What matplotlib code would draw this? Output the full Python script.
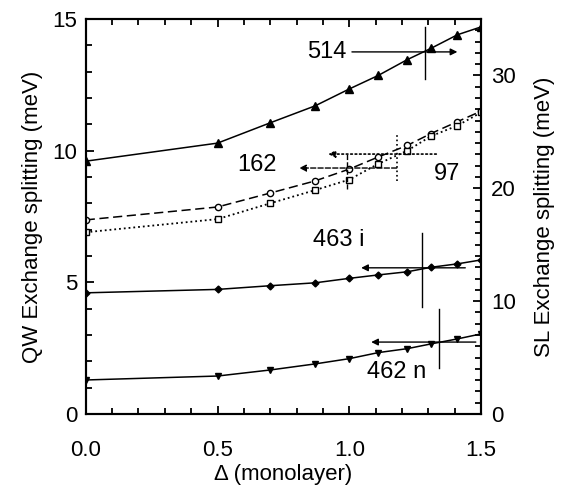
import numpy as np
import matplotlib.pyplot as plt
from matplotlib.ticker import MultipleLocator

# === DATA ===
delta = [0.0, 0.5, 0.7, 0.87, 1.0, 1.11, 1.22, 1.31, 1.41, 1.5]

# sample 514, SL axis (meV)
sl_514 = [22.4, 24.0, 25.8, 27.3, 28.8, 30.0, 31.4, 32.4, 33.6, 34.3]
# QW axis (meV)
qw_162 = [7.37, 7.86, 8.39, 8.85, 9.30, 9.76, 10.2, 10.65, 11.1, 11.5]
qw_97 = [6.90, 7.40, 8.00, 8.50, 8.90, 9.50, 10.0, 10.55, 10.95, 11.45]
qw_463i = [4.60, 4.73, 4.87, 4.98, 5.15, 5.28, 5.40, 5.57, 5.70, 5.85]
qw_462n = [1.29, 1.44, 1.67, 1.90, 2.10, 2.33, 2.48, 2.66, 2.85, 3.04]

qw_max, sl_max = 15, 35

plt.rcParams['font.family'] = ['Liberation Sans', 'DejaVu Sans']

fig = plt.figure(figsize=(5.64, 4.87), dpi=100)
ax = fig.add_axes([0.152, 0.150, 0.701, 0.811])
ax2 = ax.twinx()

ax.plot(delta, qw_462n, '-', color='k', lw=1.1, marker='v', ms=5)
ax.plot(delta, qw_463i, '-', color='k', lw=1.1, marker='D', ms=3.5)
ax.plot(delta, qw_162, '--', color='k', lw=1.1, marker='o', ms=4.5,
        mfc='white', dashes=(6, 3))
ax.plot(delta, qw_97, ':', color='k', lw=1.3, marker='s', ms=4,
        mfc='white')
ax2.plot(delta, sl_514, '-', color='k', lw=1.1, marker='^', ms=5.5)

# === ANNOTATIONS (arrows show which axis) ===
def marker_arrow(ax, x0, x1, y, xv, yv0, yv1, ls, lw=1.0):
    ax.annotate('', xy=(x1, y), xytext=(x0, y),
                arrowprops=dict(arrowstyle='-|>', color='k', lw=lw,
                                ls=ls, mutation_scale=10,
                                shrinkA=0, shrinkB=0))
    ax.plot([xv, xv], [yv0, yv1], color='k', lw=lw, ls=ls)

marker_arrow(ax, 1.01, 1.41, 13.75, 1.288, 12.72, 14.7, '-')
marker_arrow(ax, 1.18, 0.81, 9.34, 0.99, 8.55, 9.91, '--')
marker_arrow(ax, 1.33, 0.92, 9.87, 1.18, 8.85, 10.67, ':', lw=1.2)
marker_arrow(ax, 1.44, 1.045, 5.55, 1.277, 4.06, 6.87, '-')
marker_arrow(ax, 1.48, 1.083, 2.73, 1.34, 1.75, 3.99, '-')

fs = 17
ax.text(0.99, 13.75, '514', fontsize=fs, ha='right', va='center')
ax.text(0.65, 9.45, '162', fontsize=fs, ha='center', va='center')
ax.text(1.37, 9.1, '97', fontsize=fs, ha='center', va='center')
ax.text(0.96, 6.6, '463 i', fontsize=fs, ha='center', va='center')
ax.text(1.18, 1.6, '462 n', fontsize=fs, ha='center', va='center')

# === AXES ===
ax.set_xlim(0, 1.5)
ax.set_ylim(0, qw_max)
ax2.set_ylim(0, sl_max)

ax.xaxis.set_major_locator(MultipleLocator(0.5))
ax.xaxis.set_minor_locator(MultipleLocator(0.1))
ax.yaxis.set_major_locator(MultipleLocator(5))
ax.yaxis.set_minor_locator(MultipleLocator(1))
ax2.yaxis.set_major_locator(MultipleLocator(10))
ax2.yaxis.set_minor_locator(MultipleLocator(1))
ax.xaxis.set_major_formatter(plt.FormatStrFormatter('%.1f'))

ax.tick_params(which='both', direction='in', top=True, right=False,
               labelsize=16, width=1.3)
ax.tick_params(which='major', length=6)
ax.tick_params(which='minor', length=4)
ax.tick_params(axis='x', which='major', pad=19)
ax.tick_params(axis='y', which='major', pad=6)
ax2.tick_params(which='both', direction='in', labelsize=16, width=1.3)
ax2.tick_params(which='major', length=6, pad=7)
ax2.tick_params(which='minor', length=4)

for a in (ax, ax2):
    for sp in a.spines.values():
        sp.set_linewidth(1.5)

ax.set_xlabel('Δ (monolayer)', fontsize=16, labelpad=2)
ax.set_ylabel('QW Exchange splitting (meV)', fontsize=16, labelpad=7)
ax2.set_ylabel('SL Exchange splitting (meV)', fontsize=16, labelpad=13)

fig.savefig('out.png', dpi=100)
